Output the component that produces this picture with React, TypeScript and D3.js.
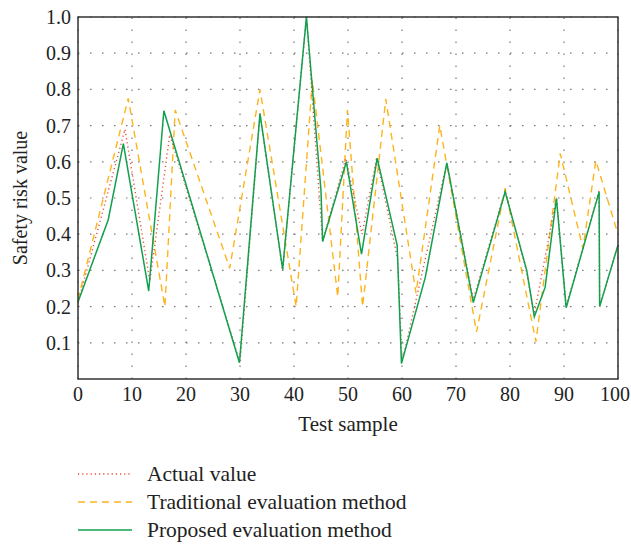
import * as d3 from "d3";

// values
const actualX = [0, 8.7, 13.3, 17, 30, 33.7, 37.9, 42.3, 45.3, 49.6, 52.6, 55.3, 59.2, 60, 68.3, 73.2, 79.1, 83, 84.5, 88.6, 90.4, 96.5, 96.6, 100];
const actualY = [0.21, 0.69, 0.27, 0.675, 0.045, 0.733, 0.3, 1.0, 0.38, 0.61, 0.4, 0.61, 0.33, 0.045, 0.597, 0.22, 0.52, 0.3, 0.18, 0.5, 0.2, 0.52, 0.2, 0.37];

const tradX = [0, 9.3, 16.1, 18, 28.1, 33.7, 40.4, 43.4, 48.1, 49.9, 52.7, 57, 62.6, 67, 73.8, 79.1, 84.8, 89.3, 93.5, 95.9, 100];
const tradY = [0.22, 0.775, 0.2, 0.743, 0.306, 0.8, 0.2, 0.825, 0.227, 0.743, 0.2, 0.773, 0.237, 0.7, 0.13, 0.527, 0.103, 0.623, 0.361, 0.603, 0.4];

const propX = [0, 5.6, 8.4, 13.1, 15.9, 29.9, 33.7, 37.9, 42.3, 45.0, 45.3, 49.7, 52.5, 55.4, 59.1, 59.9, 64.3, 68.3, 73.2, 79.1, 83.1, 84.5, 86.5, 88.6, 90.4, 96.5, 96.6, 100];
const propY = [0.213, 0.44, 0.65, 0.243, 0.741, 0.045, 0.733, 0.303, 1.0, 0.52, 0.38, 0.6, 0.345, 0.61, 0.37, 0.043, 0.28, 0.597, 0.211, 0.517, 0.3, 0.172, 0.253, 0.499, 0.197, 0.517, 0.2, 0.37];

const xTicks = [0, 10, 20, 30, 40, 50, 60, 70, 80, 90, 100];
const yTicks = [0.1, 0.2, 0.3, 0.4, 0.5, 0.6, 0.7, 0.8, 0.9, 1.0];

const legendLabels = ["Actual value", "Traditional evaluation method", "Proposed evaluation method"];

const RED = "#ef4b3f";
const ORANGE = "#fdb41c";
const GREEN = "#11a04e";
const FONT = "Liberation Serif, Times New Roman, DejaVu Serif, serif";

const W = 631;
const H = 545;
const margin = { top: 17, right: 12, bottom: 166, left: 78 };

const App = () => {
  const x = d3.scaleLinear().domain([0, 100]).range([margin.left, W - margin.right - 1]);
  const y = d3.scaleLinear().domain([0, 1]).range([H - margin.bottom, margin.top]);

  const line = d3
    .line<[number, number]>()
    .x((d) => x(d[0]))
    .y((d) => y(d[1]));

  const zip = (xs: number[], ys: number[]) => xs.map((v, i) => [v, ys[i]] as [number, number]);

  const series = [
    { pts: zip(tradX, tradY), color: ORANGE, dash: "7,5", width: 1.4 },
    { pts: zip(actualX, actualY), color: RED, dash: "1.2,3", width: 1.4 },
    { pts: zip(propX, propY), color: GREEN, dash: "", width: 1.5 },
  ];

  const legend = [
    { color: RED, dash: "1.2,3", width: 1.4 },
    { color: ORANGE, dash: "7,5", width: 1.4 },
    { color: GREEN, dash: "", width: 1.5 },
  ];

  const [x0, x1] = x.range();
  const [y0, y1] = y.range();
  const txt = { fontFamily: FONT, fill: "#222" };

  return (
    <div style={{ position: "absolute", left: 0, top: 0 }}>
      <svg width={W} height={H} viewBox={`0 0 ${W} ${H}`} style={{ background: "#fff", fontFamily: FONT }}>
        {/* grid */}
        {yTicks.map((t) => (
          <line key={"gy" + t} x1={x0} x2={x1} y1={y(t)} y2={y(t)} stroke="#777" strokeWidth={1.2} strokeDasharray="1.5,10.5" />
        ))}
        {xTicks.map((t) => (
          <line key={"gx" + t} x1={x(t)} x2={x(t)} y1={y0} y2={y1} stroke="#777" strokeWidth={1.2} strokeDasharray="1.5,10.5" />
        ))}

        {series.map((s, i) => (
          <path
            key={i}
            d={line(s.pts) || ""}
            fill="none"
            stroke={s.color}
            strokeWidth={s.width}
            strokeDasharray={s.dash}
            strokeLinejoin="miter"
          />
        ))}

        {/* frame */}
        <rect x={x0} y={y1} width={x1 - x0} height={y0 - y1} fill="none" stroke="#333" strokeWidth={1.5} />

        {/* tick labels */}
        {yTicks.map((t) => (
          <text key={"ly" + t} x={x0 - 7} y={y(t)} dy="0.35em" textAnchor="end" style={{ ...txt, fontSize: 20 }}>
            {t.toFixed(1)}
          </text>
        ))}
        {xTicks.map((t, i) => {
          const last = i === xTicks.length - 1;
          return (
            <text
              key={"lx" + t}
              x={last ? W - 1 : x(t)}
              y={y0 + 22}
              textAnchor={last ? "end" : "middle"}
              style={{ ...txt, fontSize: 20 }}
            >
              {t}
            </text>
          );
        })}

        {/* axis titles */}
        <text x={(x0 + x1) / 2} y={y0 + 52} textAnchor="middle" style={{ ...txt, fontSize: 21 }}>
          Test sample
        </text>
        <text transform={`translate(27,${(y0 + y1) / 2}) rotate(-90)`} textAnchor="middle" style={{ ...txt, fontSize: 20 }}>
          Safety risk value
        </text>

        {/* legend */}
        {legendLabels.map((lab, i) => {
          const ly = 474 + i * 28;
          const l = legend[i];
          return (
            <g key={lab}>
              <line x1={78} x2={132} y1={ly} y2={ly} stroke={l.color} strokeWidth={l.width} strokeDasharray={l.dash} />
              <text x={147} y={ly} dy="0.33em" style={{ ...txt, fontSize: 21.5 }}>
                {lab}
              </text>
            </g>
          );
        })}
      </svg>
    </div>
  );
};

export default App;
